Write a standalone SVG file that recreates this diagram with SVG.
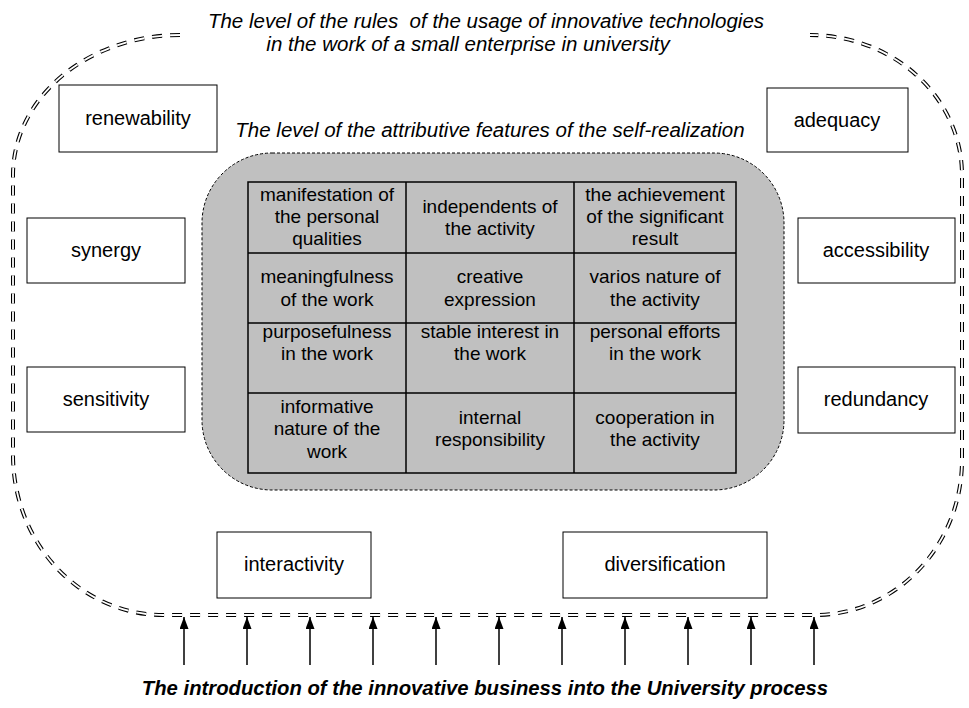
<svg xmlns="http://www.w3.org/2000/svg" width="969" height="708" viewBox="0 0 969 708">
  <style>
    text { font-family: "Liberation Sans", Arial, sans-serif; fill: #000; }
    .ital { font-style: italic; font-size: 20.5px; }
    .foot { font-style: italic; font-weight: bold; font-size: 20.3px; }
    .lbl { font-size: 20px; text-anchor: middle; }
    .cell { font-size: 19px; text-anchor: middle; }
    .box { fill: #fff; stroke: #000; stroke-width: 1; }
    .grid { fill: none; stroke: #000; stroke-width: 1.5; }
    .arrow { stroke: #000; stroke-width: 1.5; fill: none; }
    .rail { fill: none; stroke-dasharray: 10 8; }
  </style>
  <defs>
    <marker id="head" viewBox="0 0 12 9" refX="12" refY="4.5" markerWidth="12" markerHeight="9" markerUnits="userSpaceOnUse" orient="auto">
      <path d="M0,0 L12,4.5 L0,9 Z" fill="#000"/>
    </marker>
    <path id="contour" d="M180,35 A167,140 0 0 0 13,175 L13,455 A150,160 0 0 0 163,615 L815,615 A147,155 0 0 0 962,460 L962,175 A152,140 0 0 0 810,35"/>
  </defs>

  <rect width="969" height="708" fill="#fff"/>

  <!-- outer level: double dashed contour, open at the top for its caption -->
  <g id="outer-level">
    <use href="#contour" class="rail" stroke="#000" stroke-width="4"/>
    <use href="#contour" class="rail" stroke="#fff" stroke-width="1.8"/>
    <text class="ital" x="486" y="28" text-anchor="middle" style="white-space:pre">The level of the rules  of the usage of innovative technologies</text>
    <text class="ital" x="468" y="51" text-anchor="middle">in the work of a small enterprise in university</text>
  </g>

  <!-- inner level: grey rounded field with the feature table -->
  <g id="inner-level">
    <text class="ital" x="490" y="137" text-anchor="middle">The level of the attributive features of the self-realization</text>
    <rect x="202" y="153" width="582" height="337" rx="70" ry="70" fill="#c0c0c0" stroke="#000" stroke-width="1" stroke-dasharray="3 2"/>
    <g id="feature-table">
      <rect class="grid" x="248" y="182" width="488" height="291"/>
      <line class="grid" x1="406" y1="182" x2="406" y2="473"/>
      <line class="grid" x1="574" y1="182" x2="574" y2="473"/>
      <line class="grid" x1="248" y1="253" x2="736" y2="253"/>
      <line class="grid" x1="248" y1="323" x2="736" y2="323"/>
      <line class="grid" x1="248" y1="393" x2="736" y2="393"/>

      <text class="cell" x="327" y="201">manifestation of</text>
      <text class="cell" x="327" y="223">the personal</text>
      <text class="cell" x="327" y="245">qualities</text>
      <text class="cell" x="490" y="213">independents of</text>
      <text class="cell" x="490" y="235">the activity</text>
      <text class="cell" x="655" y="201">the achievement</text>
      <text class="cell" x="655" y="223">of the significant</text>
      <text class="cell" x="655" y="245">result</text>

      <text class="cell" x="327" y="283">meaningfulness</text>
      <text class="cell" x="327" y="306">of the work</text>
      <text class="cell" x="490" y="283">creative</text>
      <text class="cell" x="490" y="306">expression</text>
      <text class="cell" x="655" y="283">varios nature of</text>
      <text class="cell" x="655" y="306">the activity</text>

      <text class="cell" x="327" y="338">purposefulness</text>
      <text class="cell" x="327" y="360">in the work</text>
      <text class="cell" x="490" y="338">stable interest in</text>
      <text class="cell" x="490" y="360">the work</text>
      <text class="cell" x="655" y="338">personal efforts</text>
      <text class="cell" x="655" y="360">in the work</text>

      <text class="cell" x="327" y="413">informative</text>
      <text class="cell" x="327" y="435">nature of the</text>
      <text class="cell" x="327" y="458">work</text>
      <text class="cell" x="490" y="424">internal</text>
      <text class="cell" x="490" y="446">responsibility</text>
      <text class="cell" x="655" y="424">cooperation in</text>
      <text class="cell" x="655" y="446">the activity</text>
    </g>
  </g>

  <!-- rule nodes -->
  <g id="renewability"><rect class="box" x="59" y="85" width="158" height="67"/><text class="lbl" x="138" y="125">renewability</text></g>
  <g id="synergy"><rect class="box" x="27" y="218" width="158" height="65"/><text class="lbl" x="106" y="257">synergy</text></g>
  <g id="sensitivity"><rect class="box" x="27" y="367" width="158" height="65"/><text class="lbl" x="106" y="406">sensitivity</text></g>
  <g id="adequacy"><rect class="box" x="767" y="88" width="141" height="64"/><text class="lbl" x="837" y="127">adequacy</text></g>
  <g id="accessibility"><rect class="box" x="798" y="218" width="157" height="65"/><text class="lbl" x="876" y="257">accessibility</text></g>
  <g id="redundancy"><rect class="box" x="798" y="367" width="157" height="66"/><text class="lbl" x="876" y="406">redundancy</text></g>
  <g id="interactivity"><rect class="box" x="217" y="532" width="154" height="66"/><text class="lbl" x="294" y="571">interactivity</text></g>
  <g id="diversification"><rect class="box" x="563" y="532" width="204" height="66"/><text class="lbl" x="665" y="571">diversification</text></g>

  <!-- incoming influences from the university process -->
  <g id="connectors">
    <line class="arrow" x1="184" y1="665" x2="184" y2="617" marker-end="url(#head)"/>
    <line class="arrow" x1="247" y1="665" x2="247" y2="617" marker-end="url(#head)"/>
    <line class="arrow" x1="310" y1="665" x2="310" y2="617" marker-end="url(#head)"/>
    <line class="arrow" x1="373" y1="665" x2="373" y2="617" marker-end="url(#head)"/>
    <line class="arrow" x1="436" y1="665" x2="436" y2="617" marker-end="url(#head)"/>
    <line class="arrow" x1="499" y1="665" x2="499" y2="617" marker-end="url(#head)"/>
    <line class="arrow" x1="562" y1="665" x2="562" y2="617" marker-end="url(#head)"/>
    <line class="arrow" x1="625" y1="665" x2="625" y2="617" marker-end="url(#head)"/>
    <line class="arrow" x1="688" y1="665" x2="688" y2="617" marker-end="url(#head)"/>
    <line class="arrow" x1="751" y1="665" x2="751" y2="617" marker-end="url(#head)"/>
    <line class="arrow" x1="814" y1="665" x2="814" y2="617" marker-end="url(#head)"/>
  </g>

  <g id="source">
    <text class="foot" x="485" y="695" text-anchor="middle">The introduction of the innovative business into the University process</text>
  </g>
</svg>
